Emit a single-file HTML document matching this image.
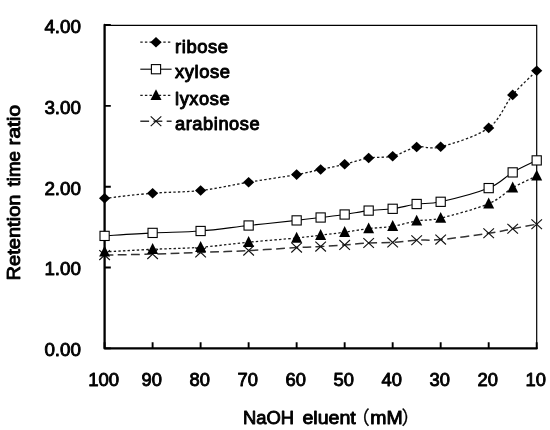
<!DOCTYPE html><html><head><meta charset="utf-8"><title>Retention time ratio</title>
<style>html,body{margin:0;padding:0;background:#fff}svg{display:block}text{font-family:"Liberation Sans","Noto Sans CJK JP",sans-serif;font-size:18.5px;fill:#000;stroke:#000;stroke-width:.9px;stroke-linejoin:round}.lg{font-size:17.5px;letter-spacing:.55px;stroke-width:.95px}.tt{font-size:18.5px}</style></head><body>
<svg width="550" height="430" viewBox="0 0 550 430">
<rect width="550" height="430" fill="#fff"/>
<path d="M104.6 25.4 H536.7 V348.4" fill="none" stroke="#000" stroke-width="1.2"/>
<path d="M104.6 25.0 V348.4 H536.7" fill="none" stroke="#000" stroke-width="2.3" stroke-linejoin="round" stroke-linecap="round"/>
<path d="M104.60 348.4 v-6.2M152.61 348.4 v-6.2M200.62 348.4 v-6.2M248.63 348.4 v-6.2M296.64 348.4 v-6.2M344.66 348.4 v-6.2M392.67 348.4 v-6.2M440.68 348.4 v-6.2M488.69 348.4 v-6.2M536.70 348.4 v-6.2M104.6 348.40 h6.2M104.6 267.55 h6.2M104.6 186.70 h6.2M104.6 105.85 h6.2M104.6 25.00 h6.2" fill="none" stroke="#000" stroke-width="1.9"/>
<path d="M104.60 198.30 C112.60 197.45 136.61 194.50 152.61 193.20 C168.61 191.90 184.62 192.33 200.62 190.50 C216.63 188.67 232.63 184.85 248.63 182.20 C264.64 179.55 284.64 176.72 296.64 174.60 C308.65 172.48 312.65 171.22 320.65 169.50 C328.65 167.78 336.65 166.22 344.66 164.30 C352.66 162.38 360.66 159.35 368.66 158.00 C376.66 156.65 384.66 158.03 392.67 156.20 C400.67 154.37 408.67 148.57 416.67 147.00 C424.67 145.43 428.68 149.98 440.68 146.80 C452.68 143.62 476.69 136.55 488.69 127.90 C500.69 119.25 504.69 104.42 512.69 94.90 C520.70 85.38 532.70 74.82 536.70 70.80" fill="none" stroke="#1a1a1a" stroke-width="1.3" stroke-dasharray="2.4 2.2"/>
<path d="M104.60 251.90 C112.60 251.47 136.61 250.07 152.61 249.30 C168.61 248.53 184.62 248.48 200.62 247.30 C216.63 246.12 232.63 243.75 248.63 242.20 C264.64 240.65 284.64 239.17 296.64 238.00 C308.65 236.83 312.65 236.17 320.65 235.20 C328.65 234.23 336.65 233.30 344.66 232.20 C352.66 231.10 360.66 229.58 368.66 228.60 C376.66 227.62 384.66 227.58 392.67 226.30 C400.67 225.02 408.67 222.27 416.67 220.90 C424.67 219.53 428.68 220.97 440.68 218.10 C452.68 215.23 476.69 208.75 488.69 203.70 C500.69 198.65 504.69 192.43 512.69 187.80 C520.70 183.17 532.70 177.88 536.70 175.90" fill="none" stroke="#1a1a1a" stroke-width="1.3" stroke-dasharray="2.4 2.2"/>
<path d="M104.60 255.10 C112.60 254.93 136.61 254.55 152.61 254.10 C168.61 253.65 184.62 252.98 200.62 252.40 C216.63 251.82 232.63 251.40 248.63 250.60 C264.64 249.80 284.64 248.27 296.64 247.60 C308.65 246.93 312.65 247.05 320.65 246.60 C328.65 246.15 336.65 245.50 344.66 244.90 C352.66 244.30 360.66 243.42 368.66 243.00 C376.66 242.58 384.66 242.87 392.67 242.40 C400.67 241.93 408.67 240.67 416.67 240.20 C424.67 239.73 428.68 240.75 440.68 239.60 C452.68 238.45 476.69 235.12 488.69 233.30 C500.69 231.48 504.69 230.22 512.69 228.70 C520.70 227.18 532.70 224.95 536.70 224.20" fill="none" stroke="#333" stroke-width="1.5" stroke-dasharray="8.8 4.4"/>
<path d="M104.60 235.90 C112.60 235.40 136.61 233.72 152.61 232.90 C168.61 232.08 184.62 232.23 200.62 231.00 C216.63 229.77 232.63 227.27 248.63 225.50 C264.64 223.73 284.64 221.73 296.64 220.40 C308.65 219.07 312.65 218.48 320.65 217.50 C328.65 216.52 336.65 215.65 344.66 214.50 C352.66 213.35 360.66 211.55 368.66 210.60 C376.66 209.65 384.66 209.90 392.67 208.80 C400.67 207.70 408.67 205.17 416.67 204.00 C424.67 202.83 428.68 204.45 440.68 201.80 C452.68 199.15 476.69 193.00 488.69 188.10 C500.69 183.20 504.69 177.02 512.69 172.40 C520.70 167.78 532.70 162.40 536.70 160.40" fill="none" stroke="#000" stroke-width="1.1"/>
<path d="M99.30 250.20 l10.6 9.8 M109.90 250.20 l-10.6 9.8" fill="none" stroke="#111" stroke-width="1.15"/>
<path d="M147.31 249.20 l10.6 9.8 M157.91 249.20 l-10.6 9.8" fill="none" stroke="#111" stroke-width="1.15"/>
<path d="M195.32 247.50 l10.6 9.8 M205.92 247.50 l-10.6 9.8" fill="none" stroke="#111" stroke-width="1.15"/>
<path d="M243.33 245.70 l10.6 9.8 M253.93 245.70 l-10.6 9.8" fill="none" stroke="#111" stroke-width="1.15"/>
<path d="M291.34 242.70 l10.6 9.8 M301.94 242.70 l-10.6 9.8" fill="none" stroke="#111" stroke-width="1.15"/>
<path d="M315.35 241.70 l10.6 9.8 M325.95 241.70 l-10.6 9.8" fill="none" stroke="#111" stroke-width="1.15"/>
<path d="M339.36 240.00 l10.6 9.8 M349.96 240.00 l-10.6 9.8" fill="none" stroke="#111" stroke-width="1.15"/>
<path d="M363.36 238.10 l10.6 9.8 M373.96 238.10 l-10.6 9.8" fill="none" stroke="#111" stroke-width="1.15"/>
<path d="M387.37 237.50 l10.6 9.8 M397.97 237.50 l-10.6 9.8" fill="none" stroke="#111" stroke-width="1.15"/>
<path d="M411.37 235.30 l10.6 9.8 M421.97 235.30 l-10.6 9.8" fill="none" stroke="#111" stroke-width="1.15"/>
<path d="M435.38 234.70 l10.6 9.8 M445.98 234.70 l-10.6 9.8" fill="none" stroke="#111" stroke-width="1.15"/>
<path d="M483.39 228.40 l10.6 9.8 M493.99 228.40 l-10.6 9.8" fill="none" stroke="#111" stroke-width="1.15"/>
<path d="M507.39 223.80 l10.6 9.8 M517.99 223.80 l-10.6 9.8" fill="none" stroke="#111" stroke-width="1.15"/>
<path d="M531.40 219.30 l10.6 9.8 M542.00 219.30 l-10.6 9.8" fill="none" stroke="#111" stroke-width="1.15"/>
<path d="M104.60 245.70 l5.5 10.9 h-11.0 z" fill="#000"/>
<path d="M152.61 243.10 l5.5 10.9 h-11.0 z" fill="#000"/>
<path d="M200.62 241.10 l5.5 10.9 h-11.0 z" fill="#000"/>
<path d="M248.63 236.00 l5.5 10.9 h-11.0 z" fill="#000"/>
<path d="M296.64 231.80 l5.5 10.9 h-11.0 z" fill="#000"/>
<path d="M320.65 229.00 l5.5 10.9 h-11.0 z" fill="#000"/>
<path d="M344.66 226.00 l5.5 10.9 h-11.0 z" fill="#000"/>
<path d="M368.66 222.40 l5.5 10.9 h-11.0 z" fill="#000"/>
<path d="M392.67 220.10 l5.5 10.9 h-11.0 z" fill="#000"/>
<path d="M416.67 214.70 l5.5 10.9 h-11.0 z" fill="#000"/>
<path d="M440.68 211.90 l5.5 10.9 h-11.0 z" fill="#000"/>
<path d="M488.69 197.50 l5.5 10.9 h-11.0 z" fill="#000"/>
<path d="M512.69 181.60 l5.5 10.9 h-11.0 z" fill="#000"/>
<path d="M536.70 169.70 l5.5 10.9 h-11.0 z" fill="#000"/>
<rect x="100.00" y="231.30" width="9.2" height="9.2" fill="#fff" stroke="#000" stroke-width="1.1"/>
<rect x="148.01" y="228.30" width="9.2" height="9.2" fill="#fff" stroke="#000" stroke-width="1.1"/>
<rect x="196.02" y="226.40" width="9.2" height="9.2" fill="#fff" stroke="#000" stroke-width="1.1"/>
<rect x="244.03" y="220.90" width="9.2" height="9.2" fill="#fff" stroke="#000" stroke-width="1.1"/>
<rect x="292.04" y="215.80" width="9.2" height="9.2" fill="#fff" stroke="#000" stroke-width="1.1"/>
<rect x="316.05" y="212.90" width="9.2" height="9.2" fill="#fff" stroke="#000" stroke-width="1.1"/>
<rect x="340.06" y="209.90" width="9.2" height="9.2" fill="#fff" stroke="#000" stroke-width="1.1"/>
<rect x="364.06" y="206.00" width="9.2" height="9.2" fill="#fff" stroke="#000" stroke-width="1.1"/>
<rect x="388.07" y="204.20" width="9.2" height="9.2" fill="#fff" stroke="#000" stroke-width="1.1"/>
<rect x="412.07" y="199.40" width="9.2" height="9.2" fill="#fff" stroke="#000" stroke-width="1.1"/>
<rect x="436.08" y="197.20" width="9.2" height="9.2" fill="#fff" stroke="#000" stroke-width="1.1"/>
<rect x="484.09" y="183.50" width="9.2" height="9.2" fill="#fff" stroke="#000" stroke-width="1.1"/>
<rect x="508.09" y="167.80" width="9.2" height="9.2" fill="#fff" stroke="#000" stroke-width="1.1"/>
<rect x="532.10" y="155.80" width="9.2" height="9.2" fill="#fff" stroke="#000" stroke-width="1.1"/>
<path d="M104.60 193.00 l5.6 5.3 l-5.6 5.3 l-5.6 -5.3 z" fill="#000"/>
<path d="M152.61 187.90 l5.6 5.3 l-5.6 5.3 l-5.6 -5.3 z" fill="#000"/>
<path d="M200.62 185.20 l5.6 5.3 l-5.6 5.3 l-5.6 -5.3 z" fill="#000"/>
<path d="M248.63 176.90 l5.6 5.3 l-5.6 5.3 l-5.6 -5.3 z" fill="#000"/>
<path d="M296.64 169.30 l5.6 5.3 l-5.6 5.3 l-5.6 -5.3 z" fill="#000"/>
<path d="M320.65 164.20 l5.6 5.3 l-5.6 5.3 l-5.6 -5.3 z" fill="#000"/>
<path d="M344.66 159.00 l5.6 5.3 l-5.6 5.3 l-5.6 -5.3 z" fill="#000"/>
<path d="M368.66 152.70 l5.6 5.3 l-5.6 5.3 l-5.6 -5.3 z" fill="#000"/>
<path d="M392.67 150.90 l5.6 5.3 l-5.6 5.3 l-5.6 -5.3 z" fill="#000"/>
<path d="M416.67 141.70 l5.6 5.3 l-5.6 5.3 l-5.6 -5.3 z" fill="#000"/>
<path d="M440.68 141.50 l5.6 5.3 l-5.6 5.3 l-5.6 -5.3 z" fill="#000"/>
<path d="M488.69 122.60 l5.6 5.3 l-5.6 5.3 l-5.6 -5.3 z" fill="#000"/>
<path d="M512.69 89.60 l5.6 5.3 l-5.6 5.3 l-5.6 -5.3 z" fill="#000"/>
<path d="M536.70 65.50 l5.6 5.3 l-5.6 5.3 l-5.6 -5.3 z" fill="#000"/>
<path d="M140.3 42.2 H171.6" stroke="#1a1a1a" stroke-width="1.3" stroke-dasharray="2.4 2.2"/>
<path d="M156.00 36.90 l5.6 5.3 l-5.6 5.3 l-5.6 -5.3 z" fill="#000"/>
<path d="M140.3 69.2 H171.6" stroke="#000" stroke-width="1.1"/>
<rect x="151.40" y="64.60" width="9.2" height="9.2" fill="#fff" stroke="#000" stroke-width="1.1"/>
<path d="M140.3 95.4 H171.6" stroke="#1a1a1a" stroke-width="1.3" stroke-dasharray="2.4 2.2"/>
<path d="M156.00 89.20 l5.5 10.9 h-11.0 z" fill="#000"/>
<path d="M140.3 121.3 H171.6" stroke="#333" stroke-width="1.5" stroke-dasharray="8.8 4.4"/>
<path d="M150.70 116.40 l10.6 9.8 M161.30 116.40 l-10.6 9.8" fill="none" stroke="#111" stroke-width="1.15"/>
<text class="lg" x="175.0" y="52.5" textLength="53.7" lengthAdjust="spacingAndGlyphs">ribose</text>
<text class="lg" x="175.0" y="78.4" textLength="55.6" lengthAdjust="spacingAndGlyphs">xylose</text>
<text class="lg" x="175.0" y="104.8" textLength="55.2" lengthAdjust="spacingAndGlyphs">lyxose</text>
<text class="lg" x="175.0" y="130.4" textLength="85.2" lengthAdjust="spacingAndGlyphs">arabinose</text>
<text x="44.4" y="356.2" textLength="36.6" lengthAdjust="spacingAndGlyphs">0.00</text>
<text x="44.4" y="275.3" textLength="36.6" lengthAdjust="spacingAndGlyphs">1.00</text>
<text x="44.4" y="194.5" textLength="36.6" lengthAdjust="spacingAndGlyphs">2.00</text>
<text x="44.4" y="113.6" textLength="36.6" lengthAdjust="spacingAndGlyphs">3.00</text>
<text x="44.4" y="32.8" textLength="36.6" lengthAdjust="spacingAndGlyphs">4.00</text>
<text x="103.7" y="386.1" text-anchor="middle" textLength="31.0" lengthAdjust="spacingAndGlyphs">100</text>
<text x="151.7" y="386.1" text-anchor="middle" textLength="20.4" lengthAdjust="spacingAndGlyphs">90</text>
<text x="199.7" y="386.1" text-anchor="middle" textLength="20.4" lengthAdjust="spacingAndGlyphs">80</text>
<text x="247.7" y="386.1" text-anchor="middle" textLength="20.4" lengthAdjust="spacingAndGlyphs">70</text>
<text x="295.7" y="386.1" text-anchor="middle" textLength="20.4" lengthAdjust="spacingAndGlyphs">60</text>
<text x="343.8" y="386.1" text-anchor="middle" textLength="20.4" lengthAdjust="spacingAndGlyphs">50</text>
<text x="391.8" y="386.1" text-anchor="middle" textLength="20.4" lengthAdjust="spacingAndGlyphs">40</text>
<text x="439.8" y="386.1" text-anchor="middle" textLength="20.4" lengthAdjust="spacingAndGlyphs">30</text>
<text x="487.8" y="386.1" text-anchor="middle" textLength="20.4" lengthAdjust="spacingAndGlyphs">20</text>
<text x="535.8" y="386.1" text-anchor="middle" textLength="20.4" lengthAdjust="spacingAndGlyphs">10</text>
<text class="tt" x="243" y="423.8" textLength="51" lengthAdjust="spacingAndGlyphs">NaOH</text>
<text class="tt" x="302.4" y="423.8" textLength="53.4" lengthAdjust="spacingAndGlyphs">eluent</text>
<text class="tt" x="351.3" y="423.8" style="stroke-width:.3px">（</text>
<text class="tt" x="370.3" y="423.8" textLength="32.4" lengthAdjust="spacingAndGlyphs">mM</text>
<text class="tt" x="401.6" y="423.8" style="stroke-width:.3px">）</text>
<g transform="translate(20 0) rotate(-90)">
<text class="tt" x="-280.5" y="0" textLength="86" lengthAdjust="spacingAndGlyphs">Retention</text>
<text class="tt" x="-186.5" y="0" textLength="35.5" lengthAdjust="spacingAndGlyphs">time</text>
<text class="tt" x="-145.5" y="0" textLength="40.5" lengthAdjust="spacingAndGlyphs">ratio</text>
</g>
</svg></body></html>
